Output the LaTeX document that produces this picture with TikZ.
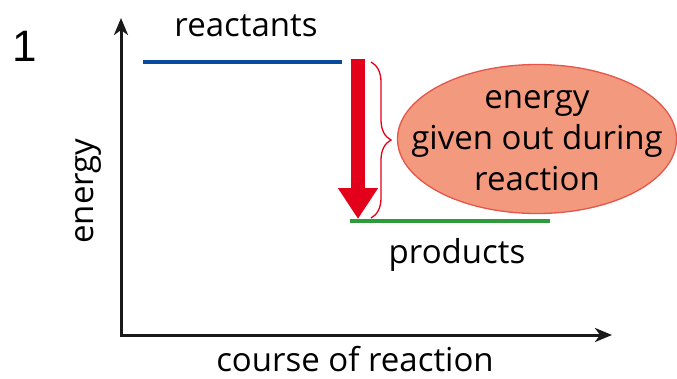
\documentclass[tikz,border=0pt]{standalone}
\usepackage{fontspec}
\setmainfont{Open Sans}
\newfontfamily\numfont{Liberation Sans}
\usetikzlibrary{positioning, shapes.geometric, arrows.meta, decorations.pathreplacing}
\definecolor{ink}{HTML}{1a1a1a}
\definecolor{lvlblue}{HTML}{0a4a9c}
\definecolor{lvlgreen}{HTML}{2f9a3c}
\definecolor{hot}{HTML}{e2001a}
\definecolor{blobfill}{HTML}{f39a7e}
\definecolor{blobedge}{HTML}{e5554a}

\begin{document}
\begin{tikzpicture}[x=1pt, y=-1pt, font=\fontsize{33}{41}\selectfont,
  axis/.style={ink, line width=3pt, {Stealth[length=17pt, width=14pt, inset=5pt]}-{Stealth[length=17pt, width=14pt, inset=5pt]}},
  lvl/.style={line width=4pt},
  drop/.style={hot, line width=14pt, -{Triangle[length=31pt, width=38pt]}, shorten >=-1pt},
  brc/.style={hot, line width=1.3pt, decorate, decoration={brace, amplitude=20pt}},
  blob/.style={ellipse, draw=blobedge, line width=1.3pt, fill=blobfill, minimum width=279pt, minimum height=149pt, inner sep=0pt},
  lbl/.style={inner sep=0pt}
]
  \useasboundingbox (0,0) rectangle (677,378);

  % axes
  \coordinate (o) at (121,335);
  \coordinate (ytip) at (121,18);
  \coordinate (xtip) at (612,335);
  \draw[axis] (ytip) -- (o) -- (xtip);

  \node[lbl, font=\numfont\fontsize{44}{44}\selectfont] (num) at (25,46) {1};
  \node[lbl, rotate=90] (ylab) at (88,191) {energy};
  \node[lbl] (xlab) at (355,359) {course of reaction};

  % energy levels
  \coordinate (r1) at (143,62);
  \coordinate (r2) at (342,62);
  \coordinate (p1) at (350,221);
  \coordinate (p2) at (550,221);
  \draw[lvl, lvlblue] (r1) -- (r2);
  \draw[lvl, lvlgreen] (p1) -- (p2);
  \node[lbl] (react) at (246,26) {reactants};
  \node[lbl] (prod) at (457,255) {products};

  % drop in energy
  \coordinate (top) at (358,59);
  \coordinate (bot) at (358,218);
  \draw[drop] (top) -- (bot);
  \coordinate (b1) at (371,62);
  \coordinate (b2) at (371,218);
  \draw[brc] (b1) -- (b2);

  \node[blob] (gain) at (537,139) {};
  \node[lbl, align=center] (gaintxt) at ([yshift=-2pt]gain.center) {energy\\given out during\\reaction};
\end{tikzpicture}
\end{document}
